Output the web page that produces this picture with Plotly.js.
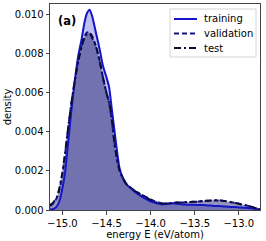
<!DOCTYPE html>
<html>
<head>
<meta charset="utf-8">
<script src="https://cdn.plot.ly/plotly-3.0.1.min.js"></script>
<style>html,body{margin:0;padding:0;background:#fff;}#chart{width:266px;height:241px;}</style>
</head>
<body>
<div id="chart"></div>
<script>
const energy = [-15.14,-15.10,-15.06,-15.03,-15.00,-14.97,-14.94,-14.90,-14.86,-14.82,-14.78,-14.75,-14.72,-14.69,-14.66,-14.62,-14.58,-14.54,-14.50,-14.47,-14.44,-14.41,-14.38,-14.35,-14.31,-14.27,-14.22,-14.17,-14.12,-14.06,-14.00,-13.94,-13.88,-13.82,-13.76,-13.70,-13.64,-13.58,-13.52,-13.46,-13.40,-13.34,-13.28,-13.22,-13.16,-13.10,-13.04,-12.98,-12.92,-12.86,-12.80,-12.76];

const training = [0.00002,0.00006,0.0002,0.0005,0.0011,0.0019,0.0032,0.0050,0.0066,0.0079,0.0088,0.0096,0.0101,0.01027,0.0099,0.0091,0.0083,0.0074,0.0068,0.0063,0.0052,0.0041,0.0030,0.0021,0.0016,0.0013,0.0011,0.0009,0.00075,0.00058,0.00045,0.00036,0.0003,0.00031,0.00034,0.00032,0.00028,0.00027,0.00027,0.00026,0.00025,0.00023,0.00021,0.0002,0.00018,0.00016,0.00015,0.00013,0.00011,0.00009,0.00005,0.00002];

const validation = [0.0002,0.00035,0.00065,0.0011,0.0018,0.0028,0.0040,0.0054,0.0066,0.0077,0.0085,0.0089,0.0091,0.0091,0.0089,0.0084,0.0077,0.0068,0.0060,0.0055,0.0046,0.0035,0.0026,0.0020,0.0016,0.0013,0.00112,0.00096,0.00083,0.00069,0.00054,0.00042,0.00035,0.00033,0.00036,0.00038,0.00039,0.00041,0.00042,0.00044,0.00046,0.00048,0.00049,0.00049,0.00046,0.00041,0.00036,0.0003,0.00024,0.00016,0.00008,0.00003];

const test = [0.00025,0.0004,0.0007,0.0012,0.0019,0.0029,0.0040,0.0054,0.0066,0.0076,0.0084,0.0088,0.00902,0.00905,0.0088,0.0084,0.0077,0.0068,0.0060,0.0055,0.0047,0.0034,0.0026,0.0020,0.0016,0.0013,0.00112,0.00095,0.00082,0.00068,0.00052,0.0004,0.00034,0.00034,0.00035,0.00038,0.00039,0.0004,0.00042,0.00043,0.00046,0.00048,0.0005,0.0005,0.00046,0.00041,0.00036,0.0003,0.00024,0.00017,0.00008,0.00003];

const seriesNames = ["training","validation","test"];
const xTickVals = [-15.0,-14.5,-14.0,-13.5,-13.0];
const xTickText = ["\u221215.0","\u221214.5","\u221214.0","\u221213.5","\u221213.0"];
const yTickVals = [0,0.002,0.004,0.006,0.008,0.010];
const yTickText = ["0.000","0.002","0.004","0.006","0.008","0.010"];

const font = "DejaVu Sans, sans-serif";
const seriesValues = [training, validation, test];
const lineColors = ["#1414c8","#14148a","#0c0c3c"];
const fillColors = ["rgba(20,20,200,0.27)","rgba(20,20,138,0.25)","rgba(12,12,60,0.25)"];
const dashes = ["solid","5px,3px","7px,3px,2px,3px"];

const traces = [];
seriesValues.forEach((vals, i) => {
  traces.push({x: energy, y: vals, type: "scatter", mode: "none", showlegend: false,
    fill: "tozeroy", fillcolor: fillColors[i], line: {shape: "spline", smoothing: 0.6, width: 0}, hoverinfo: "skip"});
});
seriesValues.forEach((vals, i) => {
  traces.push({x: energy, y: vals, name: seriesNames[i], type: "scatter", mode: "lines", showlegend: false,
    line: {color: lineColors[i], width: 2, dash: dashes[i], shape: "spline", smoothing: 0.6}});
});

// plot area in pixels: x 50..260, y 4..210
const px = v => (v - 50) / 210;
const py = v => (210 - v) / 206;

const shapes = [{type: "rect", xref: "paper", yref: "paper", x0: px(170), x1: px(256), y0: py(57), y1: py(9),
  line: {color: "#d4d4d4", width: 1}, fillcolor: "rgba(255,255,255,0.85)", layer: "above"}];
const annotations = [{text: "<b>(a)</b>", xref: "paper", yref: "paper", x: 0.028, y: 0.918,
  xanchor: "left", yanchor: "middle", showarrow: false, font: {family: font, size: 11.5, color: "#000"}}];
const rowY = [19, 33.5, 48];
seriesNames.forEach((n, i) => {
  shapes.push({type: "line", xref: "paper", yref: "paper", x0: px(174), x1: px(197), y0: py(rowY[i]), y1: py(rowY[i]),
    line: {color: lineColors[i], width: 2, dash: dashes[i]}, layer: "above"});
  annotations.push({text: n, xref: "paper", yref: "paper", x: px(202), y: py(rowY[i]), xanchor: "left", yanchor: "middle",
    showarrow: false, font: {family: font, size: 10, color: "#000"}});
});

const axisCommon = {
  showgrid: false, zeroline: false, showline: true, mirror: true,
  linecolor: "#444", linewidth: 1, ticks: "outside", ticklen: 3.5, tickwidth: 1, tickcolor: "#444",
  tickfont: {family: font, size: 10, color: "#000"}, tickmode: "array"
};

const layout = {
  width: 266, height: 241,
  margin: {l: 50, r: 6, t: 4, b: 31},
  paper_bgcolor: "#fff", plot_bgcolor: "#fff",
  font: {family: font, color: "#000"},
  showlegend: false,
  xaxis: Object.assign({}, axisCommon, {range: [-15.14, -12.76], tickvals: xTickVals, ticktext: xTickText,
    title: {text: "energy E (eV/atom)", font: {family: font, size: 10}, standoff: 2}}),
  yaxis: Object.assign({}, axisCommon, {range: [0, 0.01056], tickvals: yTickVals, ticktext: yTickText,
    title: {text: "density", font: {family: font, size: 10}, standoff: 1}}),
  shapes: shapes,
  annotations: annotations
};

Plotly.newPlot("chart", traces, layout, {displayModeBar: false, staticPlot: true});
</script>
</body>
</html>
